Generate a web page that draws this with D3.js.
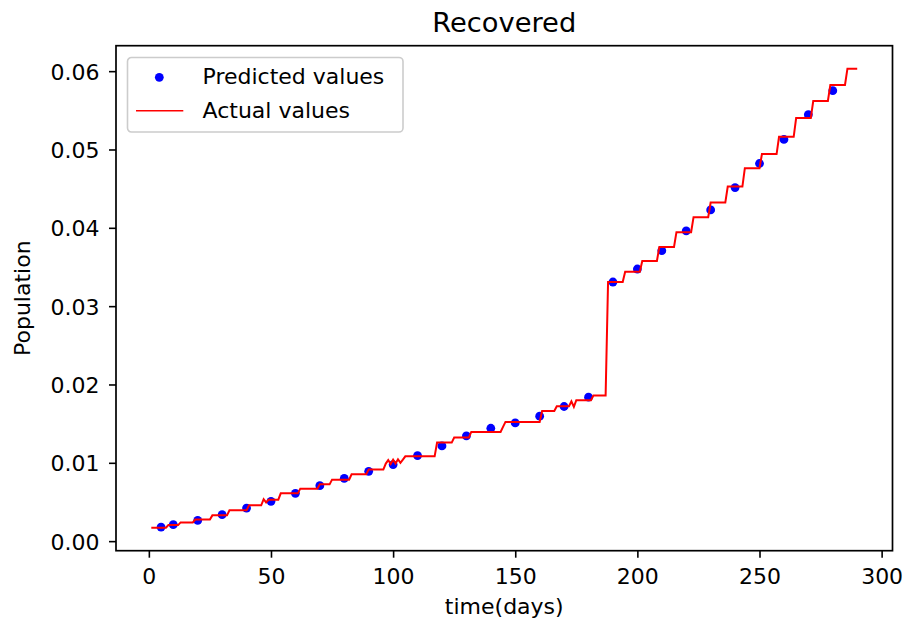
<!DOCTYPE html>
<html>
<head>
<meta charset="utf-8">
<script src="https://cdn.jsdelivr.net/npm/d3@7"></script>
<style>
  html, body { margin: 0; padding: 0; background: #fff; }
  svg { display: block; font-family: "DejaVu Sans", sans-serif; }
</style>
</head>
<body>
<svg id="chart" width="910" height="624"></svg>
<script>
// Predicted recovered fraction, sampled every 10 days
const predictedDays = [5, 10, 20, 30, 40, 50, 60, 70, 80, 90, 100, 110, 120, 130, 140,
  150, 160, 170, 180, 190, 200, 210, 220, 230, 240, 250, 260, 270, 280];
const predictedValues = [0.00179, 0.00210, 0.00265, 0.00338, 0.00422, 0.00508, 0.00610,
  0.00708, 0.00802, 0.00891, 0.00977, 0.01092, 0.01215, 0.01343, 0.01441, 0.01509,
  0.01595, 0.01719, 0.01838, 0.03308, 0.03474, 0.03708, 0.03960, 0.04229, 0.04514,
  0.04821, 0.05128, 0.05444, 0.05751];

// Actual recovered fraction: corners of the daily (weekly-updated) series
const actualDays = [1, 7, 8, 12, 13, 18, 19, 25, 26, 32, 33, 40, 41, 46, 47, 48, 49, 53,
  54, 61, 62, 69, 70, 74, 75, 82, 83, 89, 90, 96, 97, 98, 99, 100, 101, 102, 103, 104,
  105, 117, 118, 124, 125, 131, 132, 144, 145, 146, 160, 161, 166, 167, 172, 173, 174,
  175, 181, 182, 187, 188, 194, 195, 201, 202, 208, 209, 215, 216, 222, 223, 229, 230,
  236, 237, 243, 244, 250, 251, 257, 258, 264, 265, 271, 272, 278, 279, 285, 286, 290];
const actualValues = [0.00171, 0.00171, 0.00205, 0.00205, 0.00239, 0.00239, 0.00276,
  0.00276, 0.00329, 0.00329, 0.00393, 0.00393, 0.00457, 0.00457, 0.00535, 0.00495,
  0.00529, 0.00529, 0.00610, 0.00610, 0.00670, 0.00670, 0.00725, 0.00725, 0.00785,
  0.00785, 0.00853, 0.00853, 0.00913, 0.00913, 0.00990, 0.01035, 0.00985, 0.01040,
  0.00990, 0.01045, 0.01000, 0.01040, 0.01083, 0.01083, 0.01258, 0.01258, 0.01322,
  0.01322, 0.01394, 0.01394, 0.01458, 0.01522, 0.01522, 0.01662, 0.01662, 0.01722,
  0.01722, 0.01785, 0.01715, 0.01800, 0.01800, 0.01860, 0.01860, 0.03308, 0.03308,
  0.03440, 0.03440, 0.03577, 0.03577, 0.03756, 0.03756, 0.03944, 0.03944, 0.04136,
  0.04136, 0.04322, 0.04322, 0.04527, 0.04527, 0.04762, 0.04762, 0.04941, 0.04941,
  0.05162, 0.05162, 0.05401, 0.05401, 0.05619, 0.05619, 0.05824, 0.05824, 0.06032,
  0.06032];

const xTicks = [0, 50, 100, 150, 200, 250, 300];
const yTicks = [0.00, 0.01, 0.02, 0.03, 0.04, 0.05, 0.06];

const titleText = "Recovered";
const xLabel = "time(days)";
const yLabel = "Population";
const legendLabels = ["Predicted values", "Actual values"];

const W = 910, H = 624;
const margin = { top: 45.7, right: 17.5, bottom: 73.3, left: 116 };
const innerW = W - margin.left - margin.right;
const innerH = H - margin.top - margin.bottom;
const fontSize = 22;

// 5% padding around the data range on both axes
function padded(ext) {
  const r = ext[1] - ext[0];
  return [ext[0] - 0.05 * r, ext[1] + 0.05 * r];
}
const allX = actualDays.concat(predictedDays);
const allY = actualValues.concat(predictedValues);

const x = d3.scaleLinear().domain(padded(d3.extent(allX))).range([0, innerW]);
const y = d3.scaleLinear().domain(padded(d3.extent(allY))).range([innerH, 0]);

const svg = d3.select("#chart");
svg.append("rect").attr("width", W).attr("height", H).attr("fill", "#fff");

const g = svg.append("g").attr("transform", `translate(${margin.left},${margin.top})`);

// Axes
const xAxis = g.append("g")
  .attr("transform", `translate(0,${innerH})`)
  .call(d3.axisBottom(x).tickValues(xTicks).tickSize(7).tickPadding(0).tickFormat(d3.format("d")));
xAxis.select(".domain").remove();
xAxis.selectAll("line").attr("stroke", "#000").attr("stroke-width", 1.6);
xAxis.selectAll("text").attr("y", 33).attr("dy", 0)
  .attr("font-size", fontSize).attr("fill", "#000").attr("font-family", "DejaVu Sans");

const yAxis = g.append("g")
  .call(d3.axisLeft(y).tickValues(yTicks).tickSize(7).tickPadding(0).tickFormat(d3.format(".2f")));
yAxis.select(".domain").remove();
yAxis.selectAll("line").attr("stroke", "#000").attr("stroke-width", 1.6);
yAxis.selectAll("text").attr("x", -16.5).attr("dy", "0.36em")
  .attr("font-size", fontSize).attr("fill", "#000").attr("font-family", "DejaVu Sans");

// Predicted points
const predicted = predictedDays.map((d, i) => ({ day: d, value: predictedValues[i] }));
g.append("g").selectAll("circle").data(predicted).join("circle")
  .attr("cx", d => x(d.day))
  .attr("cy", d => y(d.value))
  .attr("r", 4.4)
  .attr("fill", "#0000ff");

// Actual series
const actual = actualDays.map((d, i) => ({ day: d, value: actualValues[i] }));
const line = d3.line().x(d => x(d.day)).y(d => y(d.value));
g.append("path").datum(actual)
  .attr("d", line)
  .attr("fill", "none")
  .attr("stroke", "#ff0000")
  .attr("stroke-width", 2)
  .attr("stroke-linejoin", "miter");

// Frame
g.append("rect")
  .attr("width", innerW).attr("height", innerH)
  .attr("fill", "none").attr("stroke", "#000").attr("stroke-width", 1.7);

// Title and axis labels
svg.append("text")
  .attr("x", margin.left + innerW / 2).attr("y", 32)
  .attr("text-anchor", "middle").attr("font-size", 27.3).attr("fill", "#000")
  .text(titleText);

svg.append("text")
  .attr("x", margin.left + innerW / 2).attr("y", 614)
  .attr("text-anchor", "middle").attr("font-size", fontSize).attr("fill", "#000")
  .text(xLabel);

svg.append("text")
  .attr("transform", `translate(30,${margin.top + innerH / 2}) rotate(-90)`)
  .attr("text-anchor", "middle").attr("font-size", fontSize).attr("fill", "#000")
  .text(yLabel);

// Legend
const legend = svg.append("g").attr("transform", "translate(127.5,57.5)");
legend.append("rect")
  .attr("width", 275.5).attr("height", 74.5).attr("rx", 4).attr("ry", 4)
  .attr("fill", "#fff").attr("fill-opacity", 0.8)
  .attr("stroke", "#cccccc").attr("stroke-width", 1.6);
legend.append("circle").attr("cx", 31.8).attr("cy", 19.8).attr("r", 4.4).attr("fill", "#0000ff");
legend.append("line").attr("x1", 8.5).attr("x2", 55.8).attr("y1", 53.2).attr("y2", 53.2)
  .attr("stroke", "#ff0000").attr("stroke-width", 1.6);
legend.selectAll("text.lbl").data(legendLabels).join("text")
  .attr("class", "lbl")
  .attr("x", 75).attr("y", (d, i) => 26.8 + i * 34)
  .attr("font-size", fontSize).attr("fill", "#000")
  .text(d => d);
</script>
</body>
</html>
